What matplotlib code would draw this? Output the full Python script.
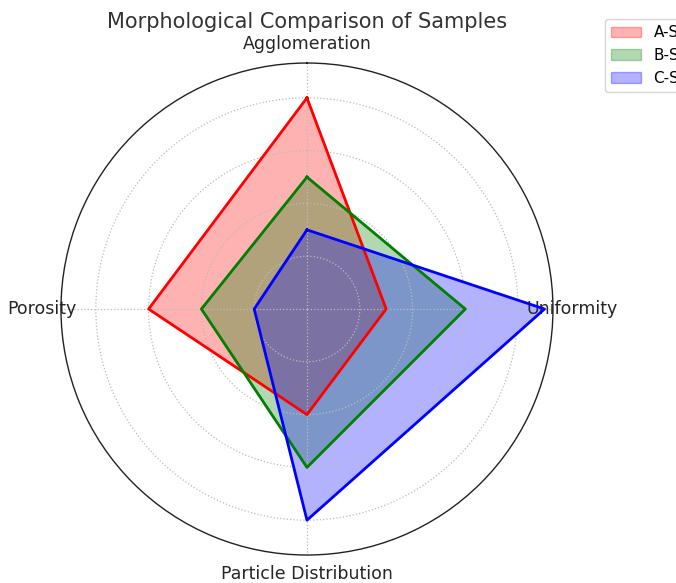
import numpy as np
import matplotlib
matplotlib.use("Agg")
import matplotlib.pyplot as plt

categories = ["Agglomeration", "Uniformity", "Particle Distribution", "Porosity"]
series_names = ["A-Sample", "B-Sample", "C-Sample"]
values_a = [4.0, 1.5, 2.0, 3.0]
values_b = [2.5, 3.0, 3.0, 2.0]
values_c = [1.5, 4.5, 4.0, 1.0]
colors = ["red", "green", "blue"]
radial_ticks = [1, 2, 3, 4]

fig = plt.figure(figsize=(6.76, 5.83), dpi=100)
ax = fig.add_axes([0.0902, 0.048, 0.7278, 0.8439], projection="polar")
ax.set_theta_offset(np.pi / 2)
ax.set_theta_direction(-1)

n = len(categories)
angles = np.linspace(0, 2 * np.pi, n, endpoint=False).tolist()
angles_closed = angles + angles[:1]

for name, vals, col in zip(series_names, [values_a, values_b, values_c], colors):
    v = list(vals) + [vals[0]]
    ax.fill(angles_closed, v, color=col, alpha=0.3, label=name)
    ax.plot(angles_closed, v, color=col, linewidth=2)

ax.set_xticks(angles)
ax.set_xticklabels(categories, fontsize=12.5, color="#262626")
ax.set_yticks(radial_ticks)
ax.set_yticklabels([])
ax.set_ylim(0, 4.66)
ax.grid(True, linestyle=":", color="#bbbbbb", linewidth=0.9)
ax.spines["polar"].set_color("#222222")
ax.spines["polar"].set_linewidth(1.0)

fig.text(0.454, 0.962, "Morphological Comparison of Samples", ha="center", va="center",
         fontsize=15, color="#333333")

leg = ax.legend(loc="upper left", fontsize=11, frameon=True)
leg.set_bbox_to_anchor((0.883, 0.98), transform=fig.transFigure)

fig.savefig("out.png", dpi=100)
